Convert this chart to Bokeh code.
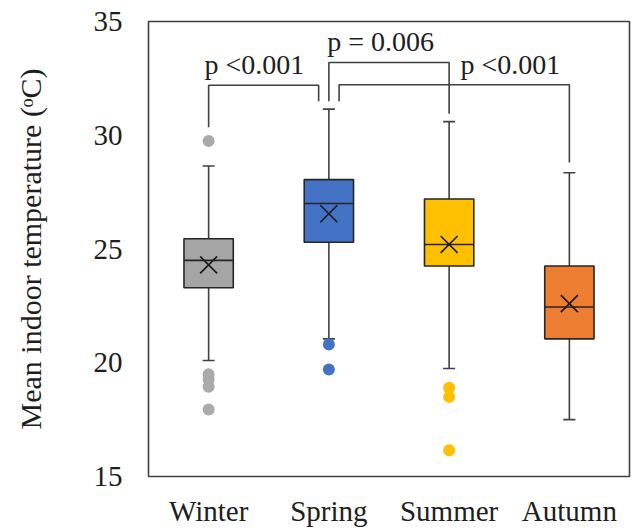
from bokeh.plotting import figure
from bokeh.models import ColumnDataSource, FactorRange, Range1d, FixedTicker
from bokeh.core.properties import value
from bokeh.embed import file_html
from bokeh.resources import INLINE

# ---------------- data ----------------
seasons = ["Winter", "Spring", "Summer", "Autumn"]
lower_whisker = [20.1, 21.05, 19.75, 17.5]
q1 = [23.3, 25.3, 24.25, 21.05]
median = [24.5, 27.0, 25.2, 22.45]
q3 = [25.45, 28.05, 27.2, 24.25]
upper_whisker = [28.65, 31.15, 30.6, 28.35]
mean = [24.3, 26.55, 25.2, 22.6]
fill_colors = ["#A5A5A5", "#4472C4", "#FFC000", "#ED7D31"]
outlier_colors = ["#AAAAAA", "#4472C4", "#FFC000", "#ED7D31"]
outliers = {
    "Winter": [29.75, 19.5, 19.25, 18.95, 17.95],
    "Spring": [20.8, 19.7],
    "Summer": [18.9, 18.5, 16.15],
    "Autumn": [],
}
y_ticks = [15, 20, 25, 30, 35]
p_labels = ["p <0.001", "p = 0.006", "p <0.001"]

FONT = "Liberation Serif"
DARK = "#404040"
TXT = "#1e1e1e"

p = figure(
    x_range=FactorRange(*seasons, range_padding=0),
    y_range=Range1d(15, 35),
    width=636, height=529,
    output_backend="svg", toolbar_location=None,
    min_border_left=148, min_border_right=7, min_border_top=21, min_border_bottom=53,
)
p.outline_line_color = DARK
p.outline_line_width = 1.6
p.xgrid.grid_line_color = None
p.ygrid.grid_line_color = None
p.background_fill_color = "white"
p.border_fill_color = "white"

for ax in (p.xaxis, p.yaxis):
    ax.axis_line_color = None
    ax.major_tick_line_color = None
    ax.minor_tick_line_color = None
    ax.major_tick_out = 0
    ax.major_tick_in = 0
    ax.minor_tick_out = 0
    ax.major_label_text_font = FONT
    ax.major_label_text_font_size = "29px"
    ax.major_label_text_color = TXT

p.xaxis.major_label_standoff = 18
p.yaxis.major_label_standoff = 26
p.yaxis.ticker = FixedTicker(ticks=y_ticks)
p.yaxis.axis_label = "Mean indoor temperature (\u1d52C)"
p.yaxis.axis_label_text_font = FONT
p.yaxis.axis_label_text_font_size = "30px"
p.yaxis.axis_label_text_font_style = "normal"
p.yaxis.axis_label_text_color = TXT
p.yaxis.axis_label_standoff = 44

BW = 0.41
CAP = 0.05

src = ColumnDataSource(dict(
    x=seasons,
    lw=lower_whisker, q1=q1, med=median, q3=q3, uw=upper_whisker, mean=mean,
    color=fill_colors,
    xl=[(s, -BW / 2) for s in seasons], xr=[(s, BW / 2) for s in seasons],
    cl=[(s, -CAP) for s in seasons], cr=[(s, CAP) for s in seasons],
))

# whiskers
p.segment(x0="x", y0="lw", x1="x", y1="uw", source=src, line_color=DARK, line_width=1.6)
p.segment(x0="cl", y0="uw", x1="cr", y1="uw", source=src, line_color=DARK, line_width=1.6)
p.segment(x0="cl", y0="lw", x1="cr", y1="lw", source=src, line_color=DARK, line_width=1.6)
# boxes
p.vbar(x="x", top="q3", bottom="q1", width=BW, source=src, fill_color="color",
       line_color="#262626", line_width=1.6)
# median
p.segment(x0="xl", y0="med", x1="xr", y1="med", source=src, line_color="#262626", line_width=1.6)
# mean
p.scatter(x="x", y="mean", source=src, marker="x", size=24, line_color="#1a1a1a", line_width=1.6)

# outliers
ox, oy, oc = [], [], []
for s, col in zip(seasons, outlier_colors):
    for v in outliers[s]:
        ox.append(s)
        oy.append(v)
        oc.append(col)
p.scatter(x=ox, y=oy, color=oc, size=12, line_color=None)

# significance brackets (layout annotations)
br = 0.085
brackets = [
    # (x_left, y_left_bottom, x_right, y_right_bottom, y_top)
    (("Winter", 0.0), 30.35, ("Spring", -br), 31.5, 32.2),
    (("Spring", 0.0), 31.5, ("Summer", 0.0), 30.95, 33.2),
    (("Spring", br), 31.5, ("Autumn", 0.0), 28.8, 32.22),
]
for xl, yl, xr, yr, yt in brackets:
    p.line(x=[xl, xl, xr, xr], y=[yl, yt, yt, yr], line_color=DARK, line_width=1.6)

p.text(x=[("Winter", 0.38), ("Spring", 0.43), ("Summer", 0.51)],
       y=[33.1, 34.1, 33.1], text=p_labels,
       text_font=value(FONT), text_font_size="28px", text_color=TXT,
       text_align="center", text_baseline="alphabetic")

open("out.html", "w").write(file_html(p, INLINE))
